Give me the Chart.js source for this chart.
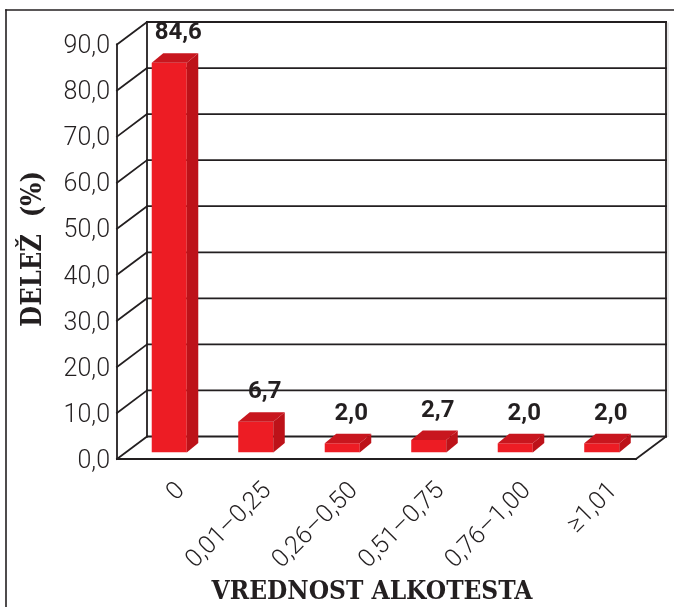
<!DOCTYPE html>
<html>
<head>
<meta charset="utf-8">
<script src="https://cdn.jsdelivr.net/npm/chart.js@4.4.1/dist/chart.umd.min.js"></script>
<style>
  html, body { margin: 0; padding: 0; background: #fff; }
  #wrap { width: 674px; height: 607px; }
</style>
</head>
<body>
<div id="wrap"><canvas id="alko" width="674" height="607"></canvas></div>
<script>
// values
const categories = ['0', '0,01–0,25', '0,26–0,50', '0,51–0,75', '0,76–1,00', '≥1,01'];
const shares = [84.6, 6.7, 2.0, 2.7, 2.0, 2.0];
const yMin = 0;
const yMax = 90;
const yStep = 10;
const yTitle = 'DELEŽ  (%)';
const xTitle = 'VREDNOST ALKOTESTA';

const INK = '#231f20';
const RED = '#ed1c24';
const RED_TOP = '#c8161e';
const RED_SIDE = '#bd1219';

// 3D offsets relative to the plane the bars stand on
const FRONT = [-9, 6.5];
const BACK = [21, -16];
const BAR_DEPTH = [11.5, -9.5];

const comma = v => v.toFixed(1).replace('.', ',');

function line(ctx, x1, y1, x2, y2) {
  ctx.beginPath();
  ctx.moveTo(x1, y1);
  ctx.lineTo(x2, y2);
  ctx.stroke();
}

const box3d = {
  id: 'box3d',
  beforeDatasetsDraw(chart) {
    const { ctx, chartArea: a, scales: { y } } = chart;
    ctx.save();
    ctx.strokeStyle = INK;
    ctx.lineCap = 'square';

    // outer frame
    ctx.lineWidth = 1.6;
    line(ctx, 6, 10, 674, 10);
    line(ctx, 6, 10, 6, 607);

    const bl = a.left + BACK[0], br = a.right + BACK[0];
    const fl = a.left + FRONT[0], fr = a.right + FRONT[0];
    const top = y.getPixelForValue(yMax), bot = y.getPixelForValue(yMin);

    // back wall gridlines + left wall diagonals
    ctx.lineWidth = 1.8;
    y.ticks.forEach(t => {
      const py = y.getPixelForValue(t.value);
      line(ctx, bl, py + BACK[1], br, py + BACK[1]);
      line(ctx, fl, py + FRONT[1], bl, py + BACK[1]);
    });
    line(ctx, bl, top + BACK[1], bl, bot + BACK[1]);
    line(ctx, br, top + BACK[1], br, bot + BACK[1]);

    // front axis and floor
    line(ctx, fl, top + FRONT[1], fl, bot + FRONT[1]);
    line(ctx, fl, bot + FRONT[1], fr, bot + FRONT[1]);
    line(ctx, fr, bot + FRONT[1], br, bot + BACK[1]);

    // faint shadow along the right wall edge
    ctx.strokeStyle = 'rgba(0,0,0,0.18)';
    ctx.lineWidth = 1;
    line(ctx, br + 2, top + BACK[1] + 1, br + 2, bot + BACK[1]);

    // axis titles
    ctx.fillStyle = INK;
    ctx.font = 'bold 27px "DejaVu Serif Condensed", "DejaVu Serif", serif';
    ctx.textAlign = 'center';
    ctx.textBaseline = 'middle';
    ctx.save();
    ctx.translate(34, 249);
    ctx.rotate(-Math.PI / 2);
    ctx.fillText(yTitle, 0, 0);
    ctx.restore();
    ctx.font = 'bold 26px "DejaVu Serif Condensed", "DejaVu Serif", serif';
    ctx.fillText(xTitle, 372, 592);
    ctx.restore();
  },
  afterDatasetsDraw(chart) {
    const { ctx } = chart;
    const meta = chart.getDatasetMeta(0);
    const [dx, dy] = BAR_DEPTH;
    ctx.save();
    meta.data.forEach((bar, i) => {
      const { x, y, base, width } = bar.getProps(['x', 'y', 'base', 'width'], true);
      const l = x - width / 2, r = x + width / 2;

      ctx.fillStyle = RED_SIDE;
      ctx.beginPath();
      ctx.moveTo(r, y);
      ctx.lineTo(r + dx, y + dy);
      ctx.lineTo(r + dx, base + dy);
      ctx.lineTo(r, base);
      ctx.closePath();
      ctx.fill();

      ctx.fillStyle = RED_TOP;
      ctx.beginPath();
      ctx.moveTo(l, y);
      ctx.lineTo(l + dx, y + dy);
      ctx.lineTo(r + dx, y + dy);
      ctx.lineTo(r, y);
      ctx.closePath();
      ctx.fill();

      ctx.fillStyle = INK;
      ctx.font = 'bold 24px Roboto, "Liberation Sans", sans-serif';
      ctx.textAlign = 'center';
      ctx.textBaseline = 'alphabetic';
      ctx.fillText(comma(shares[i]), x + 9, y + dy - 14);
    });
    ctx.restore();
  }
};

new Chart(document.getElementById('alko'), {
  type: 'bar',
  data: {
    labels: categories,
    datasets: [{
      data: shares,
      backgroundColor: RED,
      borderWidth: 0,
      categoryPercentage: 1,
      barPercentage: 0.405
    }]
  },
  options: {
    responsive: false,
    animation: false,
    layout: { padding: { left: 0, right: 29, top: 38, bottom: 0 } },
    plugins: {
      legend: { display: false },
      tooltip: { enabled: false }
    },
    scales: {
      x: {
        grid: { display: false, drawTicks: false },
        border: { display: false },
        afterFit(s) { s.height = 154.5; },
        ticks: {
          autoSkip: false,
          minRotation: 45,
          maxRotation: 45,
          padding: 24,
          labelOffset: 12,
          color: INK,
          font: { family: 'Roboto', weight: '300', size: 25 }
        }
      },
      y: {
        min: yMin,
        max: yMax,
        grid: { display: false, drawTicks: false },
        border: { display: false },
        afterFit(s) { s.width = 126; },
        ticks: {
          stepSize: yStep,
          padding: 16,
          labelOffset: 9,
          color: INK,
          font: { family: 'Roboto', weight: '300', size: 25 },
          callback: v => comma(v)
        }
      }
    }
  },
  plugins: [box3d]
});
</script>
</body>
</html>
